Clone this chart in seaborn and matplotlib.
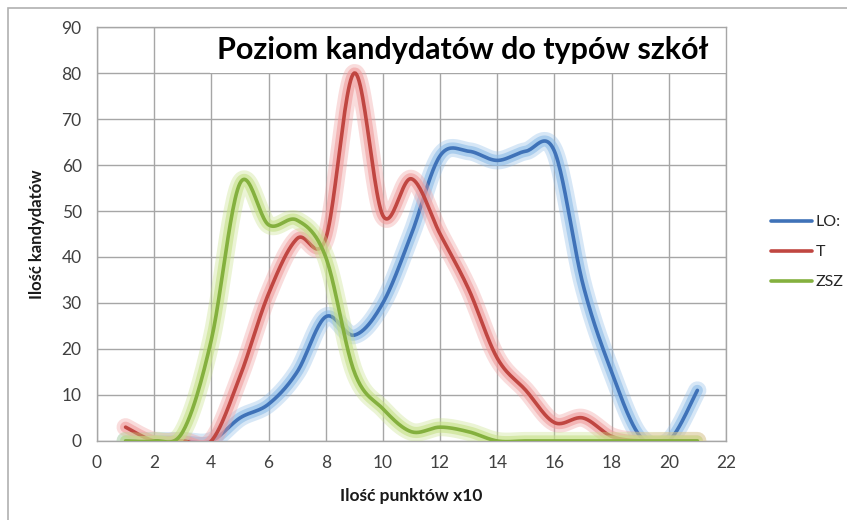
import numpy as np
import pandas as pd
import seaborn as sns
import matplotlib.pyplot as plt
import matplotlib.patheffects as pe
from matplotlib.patches import Rectangle

# data (points x10)
punkty = list(range(1, 22))
lo = [0, 0, 0, 0, 5, 8, 15, 27, 23, 30, 45, 62, 63, 61, 63, 63, 34, 15, 1, 0, 11]
t = [3, 0, 0, 0, 14, 32, 44, 44, 80, 49, 57, 45, 33, 18, 11, 4, 5, 1, 0, 0, 0]
zsz = [0, 0, 2, 22, 56, 47, 48, 40, 15, 7, 2, 3, 2, 0, 0, 0, 0, 0, 0, 0, 0]
series = ['LO:', 'T', 'ZSZ']
colors = ['#3F72B8', '#C04641', '#84B03E']
glow = ['#8DBCE8', '#F09C9C', '#C6E088']


def smooth(xs, ys, n=24):
    # excel-like smoothed line (catmull-rom as bezier)
    p = np.column_stack([xs, ys]).astype(float)
    out = []
    for i in range(len(p) - 1):
        p0 = p[max(i - 1, 0)]
        p1 = p[i]
        p2 = p[i + 1]
        p3 = p[min(i + 2, len(p) - 1)]
        c1 = p1 + (p2 - p0) / 6
        c2 = p2 - (p3 - p1) / 6
        tt = np.linspace(0, 1, n, endpoint=False)[:, None]
        b = ((1 - tt) ** 3) * p1 + 3 * ((1 - tt) ** 2) * tt * c1 + 3 * (1 - tt) * tt ** 2 * c2 + tt ** 3 * p2
        out.append(b)
    out.append(p[-1:])
    return np.vstack(out)


frames = []
for name, vals in zip(series, [lo, t, zsz]):
    c = smooth(punkty, vals)
    frames.append(pd.DataFrame({'x': c[:, 0], 'y': c[:, 1], 'typ': name}))
df = pd.concat(frames, ignore_index=True)

sns.set_theme(style='whitegrid')
plt.rcParams['font.family'] = ['Lato', 'DejaVu Sans']

fig = plt.figure(figsize=(8.47, 5.2), dpi=100)
ax = fig.add_axes([0.1145, 0.152, 0.7426, 0.796])

ax = sns.lineplot(data=df, x='x', y='y', hue='typ', palette=colors, sort=False,
                  linewidth=2.6, ax=ax, legend=False, zorder=3)

for line, g in zip(ax.get_lines(), glow):
    line.set_path_effects([
        pe.Stroke(linewidth=13, foreground=g, alpha=0.35),
        pe.Stroke(linewidth=8, foreground=g, alpha=0.6),
        pe.Normal(),
    ])

ax.set_xlim(0, 22)
ax.set_ylim(0, 90)
ax.set_xticks(range(0, 23, 2))
ax.set_yticks(range(0, 91, 10))
ax.grid(True, color='#A6A6A6', linewidth=1)
ax.set_facecolor('white')
for s in ax.spines.values():
    s.set_color('#A6A6A6')
    s.set_linewidth(1)
ax.tick_params(axis='both', colors='#404040', labelsize=12.5, length=5, width=1,
               direction='out', pad=6)
ax.tick_params(axis='both', color='#A6A6A6')
ax.tick_params(axis='x', length=4)

ax.set_xlabel('Ilość punktów x10', fontsize=12.5, fontweight='bold', color='#1a1a1a', labelpad=12)
ax.set_ylabel('Ilość kandydatów', fontsize=12, fontweight='bold', color='#1a1a1a', labelpad=12)

# title box inside plot area
ax.add_patch(Rectangle((0.18, 0.889), 0.826, 0.11, transform=ax.transAxes,
                       facecolor='white', edgecolor='none', zorder=2.5, clip_on=False))
ax.text(0.582, 0.944, 'Poziom kandydatów do typów szkół', transform=ax.transAxes,
        ha='center', va='center', fontsize=22, fontweight='bold', color='black', zorder=5)

# legend
handles = [plt.Line2D([], [], color=c, linewidth=2.6) for c in colors]
fig.legend(handles, series, loc='center left', bbox_to_anchor=(0.893, 0.515),
           frameon=False, fontsize=11.5, handlelength=2.6, handletextpad=0.2,
           labelspacing=1.0, labelcolor='#262626')

# outer chart border
fig.patches.append(Rectangle((8 / 847, -0.05), 1.1, 1 - 8 / 520 + 0.05,
                             transform=fig.transFigure, fill=False,
                             edgecolor='#B0B0B0', linewidth=1.2))

fig.savefig('out.png', dpi=100, facecolor='white')
